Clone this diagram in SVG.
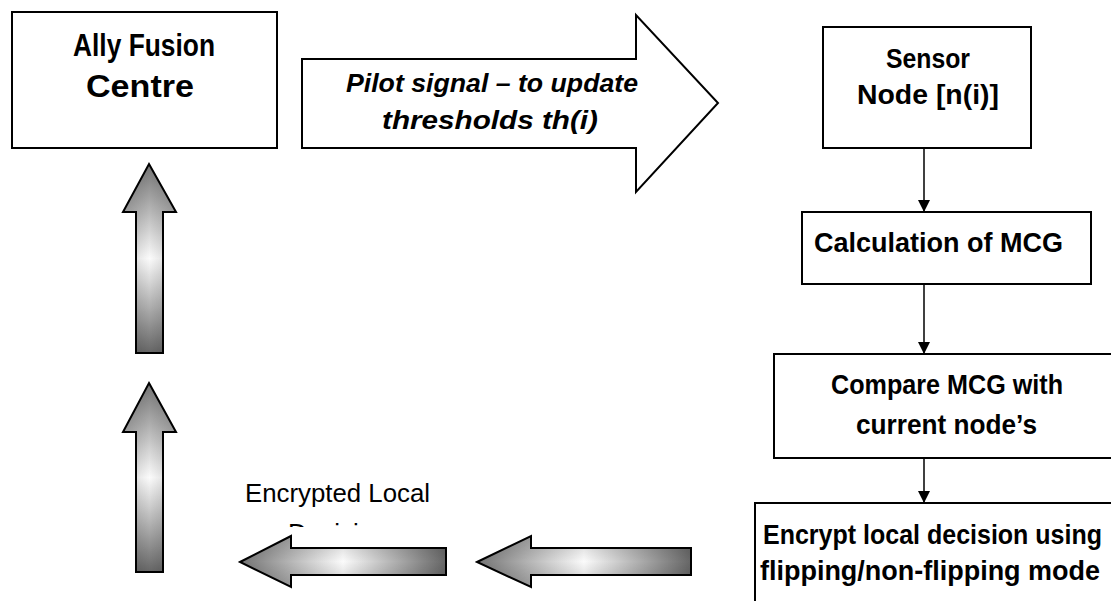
<svg xmlns="http://www.w3.org/2000/svg" width="1111" height="601" viewBox="0 0 1111 601">
  <style>
    .box { fill: #ffffff; stroke: #000000; stroke-width: 2; }
    .lbl { font-family: "Liberation Sans", Arial, sans-serif; font-weight: bold; font-size: 27px; fill: #000000; }
    .big { font-size: 31px; }
    .ital { font-style: italic; font-size: 26px; }
    .plain { font-family: "Liberation Sans", Arial, sans-serif; font-size: 26px; fill: #000000; }
    .conn { stroke: #000000; stroke-width: 1.5; fill: none; }
    .block { stroke: #000000; stroke-width: 2; stroke-linejoin: miter; }
  </style>
  <defs>
    <!-- shading along the length of the block arrows -->
    <linearGradient id="shadeV" x1="0" y1="0" x2="0" y2="1">
      <stop offset="0" stop-color="#737373"/>
      <stop offset="0.5" stop-color="#fbfbfb"/>
      <stop offset="1" stop-color="#666666"/>
    </linearGradient>
    <linearGradient id="shadeH" x1="0" y1="0" x2="1" y2="0">
      <stop offset="0" stop-color="#737373"/>
      <stop offset="0.5" stop-color="#fbfbfb"/>
      <stop offset="1" stop-color="#666666"/>
    </linearGradient>
    <!-- soft darkening toward the long edges -->
    <linearGradient id="edgeV" x1="0" y1="0" x2="1" y2="0">
      <stop offset="0" stop-color="#000000" stop-opacity="0.18"/>
      <stop offset="0.5" stop-color="#000000" stop-opacity="0"/>
      <stop offset="1" stop-color="#000000" stop-opacity="0.18"/>
    </linearGradient>
    <linearGradient id="edgeH" x1="0" y1="0" x2="0" y2="1">
      <stop offset="0" stop-color="#000000" stop-opacity="0.18"/>
      <stop offset="0.5" stop-color="#000000" stop-opacity="0"/>
      <stop offset="1" stop-color="#000000" stop-opacity="0.18"/>
    </linearGradient>
    <marker id="tri" markerWidth="12" markerHeight="12" refX="12" refY="6" orient="auto" markerUnits="userSpaceOnUse">
      <path d="M0,0 L12,6 L0,12 Z" fill="#000000"/>
    </marker>
    <clipPath id="labelClip">
      <rect x="200" y="460" width="300" height="67"/>
    </clipPath>
  </defs>

  <g id="ally-fusion-centre">
    <rect class="box" x="12" y="12" width="265" height="136"/>
    <text class="lbl big" x="73" y="56" textLength="142" lengthAdjust="spacingAndGlyphs">Ally Fusion</text>
    <text class="lbl big" x="86" y="97" textLength="108" lengthAdjust="spacingAndGlyphs">Centre</text>
  </g>

  <g id="pilot-signal">
    <polygon class="box" stroke-width="1.5" points="302,59 636,59 636,15 718,103 636,192 636,148 302,148"/>
    <text class="lbl ital" x="346" y="92" textLength="292" lengthAdjust="spacingAndGlyphs">Pilot signal – to update</text>
    <text class="lbl ital" x="382" y="129" textLength="216" lengthAdjust="spacingAndGlyphs">thresholds th(i)</text>
  </g>

  <g id="sensor-node">
    <rect class="box" x="823" y="27" width="208" height="121"/>
    <text class="lbl" x="886" y="68" textLength="84" lengthAdjust="spacingAndGlyphs">Sensor</text>
    <text class="lbl" x="857" y="104" textLength="142" lengthAdjust="spacingAndGlyphs">Node [n(i)]</text>
  </g>

  <g id="calculation-mcg">
    <rect class="box" x="802" y="212" width="289" height="72"/>
    <text class="lbl" x="814" y="252" textLength="249" lengthAdjust="spacingAndGlyphs">Calculation of MCG</text>
  </g>

  <g id="compare-mcg">
    <rect class="box" x="774" y="354" width="350" height="104"/>
    <text class="lbl" x="831" y="394" textLength="232" lengthAdjust="spacingAndGlyphs">Compare MCG with</text>
    <text class="lbl" x="856" y="434" textLength="181" lengthAdjust="spacingAndGlyphs">current node’s</text>
  </g>

  <g id="encrypt-decision">
    <rect class="box" x="755" y="503" width="370" height="120"/>
    <text class="lbl" font-size="25" x="763" y="544" textLength="339" lengthAdjust="spacingAndGlyphs">Encrypt local decision using</text>
    <text class="lbl" x="760" y="580" textLength="340" lengthAdjust="spacingAndGlyphs">flipping/non-flipping mode</text>
  </g>

  <g id="encrypted-local-decision">
    <g clip-path="url(#labelClip)">
      <text class="plain" x="245" y="502" textLength="185" lengthAdjust="spacingAndGlyphs">Encrypted Local</text>
      <text class="plain" x="288" y="542">Decision</text>
    </g>
  </g>

  <g id="connectors">
    <line class="conn" x1="924" y1="148" x2="924" y2="212" marker-end="url(#tri)"/>
    <line class="conn" x1="924" y1="284" x2="924" y2="354" marker-end="url(#tri)"/>
    <line class="conn" x1="924" y1="458" x2="924" y2="503" marker-end="url(#tri)"/>

    <!-- shaded block arrows returning the decision to the fusion centre -->
    <g id="left-arrow-2">
      <polygon fill="url(#shadeH)" points="477,562 531,536 531,548 691,548 691,575 531,575 531,587"/>
      <polygon fill="url(#edgeH)" points="477,562 531,536 531,548 691,548 691,575 531,575 531,587"/>
      <polygon class="block" fill="none" points="477,562 531,536 531,548 691,548 691,575 531,575 531,587"/>
    </g>
    <g id="left-arrow-1">
      <polygon fill="url(#shadeH)" points="240,562 291,536 291,548 446,548 446,575 291,575 291,587"/>
      <polygon fill="url(#edgeH)" points="240,562 291,536 291,548 446,548 446,575 291,575 291,587"/>
      <polygon class="block" fill="none" points="240,562 291,536 291,548 446,548 446,575 291,575 291,587"/>
    </g>
    <g id="up-arrow-2">
      <polygon fill="url(#shadeV)" points="149,383 176,432 163,432 163,572 136,572 136,432 123,432"/>
      <polygon fill="url(#edgeV)" points="149,383 176,432 163,432 163,572 136,572 136,432 123,432"/>
      <polygon class="block" fill="none" points="149,383 176,432 163,432 163,572 136,572 136,432 123,432"/>
    </g>
    <g id="up-arrow-1">
      <polygon fill="url(#shadeV)" points="149,164 176,212 163,212 163,353 136,353 136,212 123,212"/>
      <polygon fill="url(#edgeV)" points="149,164 176,212 163,212 163,353 136,353 136,212 123,212"/>
      <polygon class="block" fill="none" points="149,164 176,212 163,212 163,353 136,353 136,212 123,212"/>
    </g>
  </g>
</svg>
